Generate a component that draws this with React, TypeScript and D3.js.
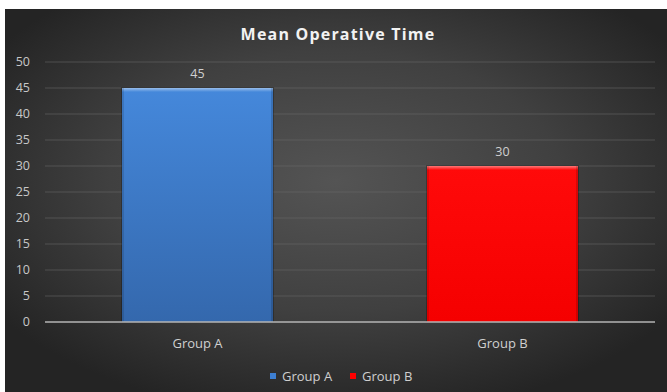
import React from "react";
import * as d3 from "d3";

const categories = ["Group A", "Group B"];
const values = [45, 30];
const colors = ["#3d7fd2", "#ff0000"];
const yTicks = [0, 5, 10, 15, 20, 25, 30, 35, 40, 45, 50];
const title = "Mean Operative Time";

const W = 667;
const H = 392;
const frame = { x: 5, y: 9, w: 662, h: 383 };
const plot = { left: 45, right: 655, top: 62, bottom: 322 };

export default function App() {
  const x = d3
    .scaleBand<string>()
    .domain(categories)
    .range([plot.left, plot.right])
    .paddingInner(0.505)
    .paddingOuter(0.2525);
  const y = d3.scaleLinear().domain([0, 50]).range([plot.bottom, plot.top]);
  const font = "'Open Sans', 'DejaVu Sans', sans-serif";

  return (
    <svg
      width={W}
      height={H}
      style={{ position: "absolute", left: 0, top: 0, background: "#ffffff" }}
    >
      <defs>
        <radialGradient id="bg" cx="0.5" cy="0.45" r="0.62">
          <stop offset="0" stopColor="#545454" />
          <stop offset="0.55" stopColor="#404040" />
          <stop offset="1" stopColor="#242424" />
        </radialGradient>
        <linearGradient id="barA" x1="0" y1="0" x2="0" y2="1">
          <stop offset="0" stopColor="#4588db" />
          <stop offset="1" stopColor="#3468ad" />
        </linearGradient>
        <linearGradient id="barB" x1="0" y1="0" x2="0" y2="1">
          <stop offset="0" stopColor="#ff0a0a" />
          <stop offset="1" stopColor="#f50000" />
        </linearGradient>
        <linearGradient id="bevelTop" x1="0" y1="0" x2="0" y2="1">
          <stop offset="0" stopColor="#ffffff" stopOpacity="0.45" />
          <stop offset="1" stopColor="#ffffff" stopOpacity="0" />
        </linearGradient>
      </defs>

      <rect x={frame.x} y={frame.y} width={frame.w} height={frame.h} fill="url(#bg)" />

      {/* horizontal gridlines */}
      {yTicks
        .filter((t) => t > 0)
        .map((t) => (
          <line
            key={t}
            x1={plot.left}
            x2={plot.right}
            y1={y(t)}
            y2={y(t)}
            stroke="#6a6a6a"
            strokeOpacity={0.55}
            strokeWidth={1}
          />
        ))}

      {/* y tick labels */}
      {yTicks.map((t) => (
        <text
          key={t}
          x={30}
          y={y(t)}
          dy="0.35em"
          textAnchor="end"
          fill="#c8c8c8"
          fontFamily={font}
          fontSize={12.5}
        >
          {t}
        </text>
      ))}

      {/* bars */}
      {categories.map((c, i) => {
        const bx = x(c)!;
        const bw = x.bandwidth();
        const by = y(values[i]);
        const bh = y(0) - by;
        return (
          <g key={c}>
            <rect
              x={bx - 1}
              y={by - 1}
              width={bw + 2}
              height={bh + 1}
              fill="#000000"
              opacity={0.25}
            />
            <rect
              x={bx}
              y={by}
              width={bw}
              height={bh}
              fill={i === 0 ? "url(#barA)" : "url(#barB)"}
            />
            <rect x={bx} y={by} width={bw} height={4} fill="url(#bevelTop)" />
            <rect x={bx} y={by} width={2} height={bh} fill="#000000" opacity={0.12} />
            <rect x={bx + bw - 2} y={by} width={2} height={bh} fill="#000000" opacity={0.15} />
            <text
              x={bx + bw / 2}
              y={by - 14}
              dy="0.35em"
              textAnchor="middle"
              fill="#d0d0d0"
              fontFamily={font}
              fontSize={12.5}
            >
              {values[i]}
            </text>
            <text
              x={bx + bw / 2}
              y={343}
              dy="0.35em"
              textAnchor="middle"
              fill="#d0d0d0"
              fontFamily={font}
              fontSize={13}
            >
              {c}
            </text>
          </g>
        );
      })}

      {/* category axis */}
      <line
        x1={plot.left}
        x2={plot.right}
        y1={y(0)}
        y2={y(0)}
        stroke="#b4b4b4"
        strokeWidth={1.5}
      />

      {/* title */}
      <text
        x={338}
        y={34}
        dy="0.35em"
        textAnchor="middle"
        fill="#f2f2f2"
        fontFamily={font}
        fontWeight="bold"
        fontSize={16}
        letterSpacing={1.2}
      >
        {title}
      </text>

      {/* legend */}
      {categories.map((c, i) => {
        const lx = i === 0 ? 270 : 350;
        return (
          <g key={"lg" + c}>
            <rect x={lx} y={373} width={6} height={6} fill={colors[i]} />
            <text
              x={lx + 12}
              y={376}
              dy="0.35em"
              fill="#d0d0d0"
              fontFamily={font}
              fontSize={13}
            >
              {c}
            </text>
          </g>
        );
      })}
    </svg>
  );
}
